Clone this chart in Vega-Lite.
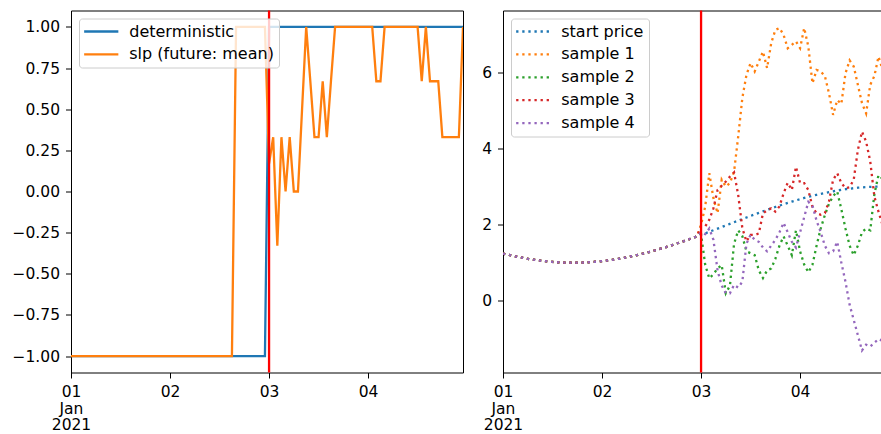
{
"$schema": "https://vega.github.io/schema/vega-lite/v6.json",
"background": "white",
"padding": {"left": 11, "top": 8.5, "right": 0, "bottom": 0},
"spacing": 17,
"data": {"values": [
{"t":"2021-01-01T00:00","det":-1,"slp":-1,"sp":1.243,"s1":1.243,"s2":1.243,"s3":1.243,"s4":1.243},
{"t":"2021-01-01T01:00","det":-1,"slp":-1,"sp":1.216,"s1":1.216,"s2":1.216,"s3":1.216,"s4":1.216},
{"t":"2021-01-01T02:00","det":-1,"slp":-1,"sp":1.191,"s1":1.191,"s2":1.191,"s3":1.191,"s4":1.191},
{"t":"2021-01-01T03:00","det":-1,"slp":-1,"sp":1.167,"s1":1.167,"s2":1.167,"s3":1.167,"s4":1.167},
{"t":"2021-01-01T04:00","det":-1,"slp":-1,"sp":1.145,"s1":1.145,"s2":1.145,"s3":1.145,"s4":1.145},
{"t":"2021-01-01T05:00","det":-1,"slp":-1,"sp":1.124,"s1":1.124,"s2":1.124,"s3":1.124,"s4":1.124},
{"t":"2021-01-01T06:00","det":-1,"slp":-1,"sp":1.104,"s1":1.104,"s2":1.104,"s3":1.104,"s4":1.104},
{"t":"2021-01-01T07:00","det":-1,"slp":-1,"sp":1.086,"s1":1.086,"s2":1.086,"s3":1.086,"s4":1.086},
{"t":"2021-01-01T08:00","det":-1,"slp":-1,"sp":1.070,"s1":1.070,"s2":1.070,"s3":1.070,"s4":1.070},
{"t":"2021-01-01T09:00","det":-1,"slp":-1,"sp":1.056,"s1":1.056,"s2":1.056,"s3":1.056,"s4":1.056},
{"t":"2021-01-01T10:00","det":-1,"slp":-1,"sp":1.043,"s1":1.043,"s2":1.043,"s3":1.043,"s4":1.043},
{"t":"2021-01-01T11:00","det":-1,"slp":-1,"sp":1.031,"s1":1.031,"s2":1.031,"s3":1.031,"s4":1.031},
{"t":"2021-01-01T12:00","det":-1,"slp":-1,"sp":1.022,"s1":1.022,"s2":1.022,"s3":1.022,"s4":1.022},
{"t":"2021-01-01T13:00","det":-1,"slp":-1,"sp":1.014,"s1":1.014,"s2":1.014,"s3":1.014,"s4":1.014},
{"t":"2021-01-01T14:00","det":-1,"slp":-1,"sp":1.008,"s1":1.008,"s2":1.008,"s3":1.008,"s4":1.008},
{"t":"2021-01-01T15:00","det":-1,"slp":-1,"sp":1.004,"s1":1.004,"s2":1.004,"s3":1.004,"s4":1.004},
{"t":"2021-01-01T16:00","det":-1,"slp":-1,"sp":1.001,"s1":1.001,"s2":1.001,"s3":1.001,"s4":1.001},
{"t":"2021-01-01T17:00","det":-1,"slp":-1,"sp":1.000,"s1":1.000,"s2":1.000,"s3":1.000,"s4":1.000},
{"t":"2021-01-01T18:00","det":-1,"slp":-1,"sp":1.001,"s1":1.001,"s2":1.001,"s3":1.001,"s4":1.001},
{"t":"2021-01-01T19:00","det":-1,"slp":-1,"sp":1.004,"s1":1.004,"s2":1.004,"s3":1.004,"s4":1.004},
{"t":"2021-01-01T20:00","det":-1,"slp":-1,"sp":1.008,"s1":1.008,"s2":1.008,"s3":1.008,"s4":1.008},
{"t":"2021-01-01T21:00","det":-1,"slp":-1,"sp":1.014,"s1":1.014,"s2":1.014,"s3":1.014,"s4":1.014},
{"t":"2021-01-01T22:00","det":-1,"slp":-1,"sp":1.022,"s1":1.022,"s2":1.022,"s3":1.022,"s4":1.022},
{"t":"2021-01-01T23:00","det":-1,"slp":-1,"sp":1.031,"s1":1.031,"s2":1.031,"s3":1.031,"s4":1.031},
{"t":"2021-01-02T00:00","det":-1,"slp":-1,"sp":1.043,"s1":1.043,"s2":1.043,"s3":1.043,"s4":1.043},
{"t":"2021-01-02T01:00","det":-1,"slp":-1,"sp":1.056,"s1":1.056,"s2":1.056,"s3":1.056,"s4":1.056},
{"t":"2021-01-02T02:00","det":-1,"slp":-1,"sp":1.070,"s1":1.070,"s2":1.070,"s3":1.070,"s4":1.070},
{"t":"2021-01-02T03:00","det":-1,"slp":-1,"sp":1.086,"s1":1.086,"s2":1.086,"s3":1.086,"s4":1.086},
{"t":"2021-01-02T04:00","det":-1,"slp":-1,"sp":1.104,"s1":1.104,"s2":1.104,"s3":1.104,"s4":1.104},
{"t":"2021-01-02T05:00","det":-1,"slp":-1,"sp":1.124,"s1":1.124,"s2":1.124,"s3":1.124,"s4":1.124},
{"t":"2021-01-02T06:00","det":-1,"slp":-1,"sp":1.145,"s1":1.145,"s2":1.145,"s3":1.145,"s4":1.145},
{"t":"2021-01-02T07:00","det":-1,"slp":-1,"sp":1.167,"s1":1.167,"s2":1.167,"s3":1.167,"s4":1.167},
{"t":"2021-01-02T08:00","det":-1,"slp":-1,"sp":1.191,"s1":1.191,"s2":1.191,"s3":1.191,"s4":1.191},
{"t":"2021-01-02T09:00","det":-1,"slp":-1,"sp":1.216,"s1":1.216,"s2":1.216,"s3":1.216,"s4":1.216},
{"t":"2021-01-02T10:00","det":-1,"slp":-1,"sp":1.243,"s1":1.243,"s2":1.243,"s3":1.243,"s4":1.243},
{"t":"2021-01-02T11:00","det":-1,"slp":-1,"sp":1.271,"s1":1.271,"s2":1.271,"s3":1.271,"s4":1.271},
{"t":"2021-01-02T12:00","det":-1,"slp":-1,"sp":1.300,"s1":1.300,"s2":1.300,"s3":1.300,"s4":1.300},
{"t":"2021-01-02T13:00","det":-1,"slp":-1,"sp":1.331,"s1":1.331,"s2":1.331,"s3":1.331,"s4":1.331},
{"t":"2021-01-02T14:00","det":-1,"slp":-1,"sp":1.363,"s1":1.363,"s2":1.363,"s3":1.363,"s4":1.363},
{"t":"2021-01-02T15:00","det":-1,"slp":-1,"sp":1.395,"s1":1.395,"s2":1.395,"s3":1.395,"s4":1.395},
{"t":"2021-01-02T16:00","det":-1,"slp":1,"sp":1.429,"s1":1.429,"s2":1.429,"s3":1.429,"s4":1.429},
{"t":"2021-01-02T17:00","det":-1,"slp":1,"sp":1.464,"s1":1.464,"s2":1.464,"s3":1.464,"s4":1.464},
{"t":"2021-01-02T18:00","det":-1,"slp":1,"sp":1.500,"s1":1.500,"s2":1.500,"s3":1.500,"s4":1.500},
{"t":"2021-01-02T19:00","det":-1,"slp":1,"sp":1.537,"s1":1.537,"s2":1.537,"s3":1.537,"s4":1.537},
{"t":"2021-01-02T20:00","det":-1,"slp":1,"sp":1.574,"s1":1.574,"s2":1.574,"s3":1.574,"s4":1.574},
{"t":"2021-01-02T21:00","det":-1,"slp":1,"sp":1.613,"s1":1.613,"s2":1.613,"s3":1.613,"s4":1.613},
{"t":"2021-01-02T22:00","det":-1,"slp":1,"sp":1.651,"s1":1.651,"s2":1.651,"s3":1.651,"s4":1.651},
{"t":"2021-01-02T23:00","det":-1,"slp":1,"sp":1.691,"s1":1.691,"s2":1.691,"s3":1.691,"s4":1.691},
{"t":"2021-01-03T00:00","det":1,"slp":0.17,"sp":1.731,"s1":2.0,"s2":1.75,"s3":1.95,"s4":1.8},
{"t":"2021-01-03T01:00","det":1,"slp":0.33,"sp":1.772,"s1":2.47,"s2":0.95,"s3":1.95,"s4":1.75},
{"t":"2021-01-03T02:00","det":1,"slp":-0.33,"sp":1.813,"s1":3.35,"s2":0.59,"s3":2.13,"s4":1.9},
{"t":"2021-01-03T03:00","det":1,"slp":0.33,"sp":1.854,"s1":2.69,"s2":0.7,"s3":2.43,"s4":1.6},
{"t":"2021-01-03T04:00","det":1,"slp":0,"sp":1.895,"s1":2.3,"s2":0.85,"s3":2.91,"s4":0.8},
{"t":"2021-01-03T05:00","det":1,"slp":0.33,"sp":1.937,"s1":3.18,"s2":0.94,"s3":3.02,"s4":0.4},
{"t":"2021-01-03T06:00","det":1,"slp":0,"sp":1.979,"s1":3.0,"s2":0.2,"s3":3.13,"s4":0.2},
{"t":"2021-01-03T07:00","det":1,"slp":0,"sp":2.021,"s1":3.09,"s2":0.4,"s3":3.26,"s4":0.2},
{"t":"2021-01-03T08:00","det":1,"slp":0.5,"sp":2.063,"s1":3.39,"s2":1.5,"s3":3.37,"s4":0.42},
{"t":"2021-01-03T09:00","det":1,"slp":1,"sp":2.105,"s1":4.31,"s2":1.85,"s3":2.78,"s4":0.35},
{"t":"2021-01-03T10:00","det":1,"slp":0.67,"sp":2.146,"s1":5.32,"s2":1.7,"s3":1.91,"s4":0.5},
{"t":"2021-01-03T11:00","det":1,"slp":0.33,"sp":2.187,"s1":5.93,"s2":1.3,"s3":1.56,"s4":1.5},
{"t":"2021-01-03T12:00","det":1,"slp":0.33,"sp":2.228,"s1":6.24,"s2":1.25,"s3":1.73,"s4":1.73},
{"t":"2021-01-03T13:00","det":1,"slp":0.67,"sp":2.269,"s1":6.02,"s2":1.2,"s3":1.73,"s4":1.6},
{"t":"2021-01-03T14:00","det":1,"slp":0.33,"sp":2.309,"s1":6.28,"s2":0.8,"s3":1.77,"s4":1.55},
{"t":"2021-01-03T15:00","det":1,"slp":0.67,"sp":2.349,"s1":6.54,"s2":0.6,"s3":2.3,"s4":1.4},
{"t":"2021-01-03T16:00","det":1,"slp":1,"sp":2.388,"s1":6.11,"s2":0.8,"s3":2.37,"s4":1.3},
{"t":"2021-01-03T17:00","det":1,"slp":1,"sp":2.426,"s1":6.76,"s2":0.85,"s3":2.43,"s4":1.45},
{"t":"2021-01-03T18:00","det":1,"slp":1,"sp":2.463,"s1":7.11,"s2":1.1,"s3":2.34,"s4":1.6},
{"t":"2021-01-03T19:00","det":1,"slp":1,"sp":2.500,"s1":7.16,"s2":1.45,"s3":2.48,"s4":1.8},
{"t":"2021-01-03T20:00","det":1,"slp":1,"sp":2.536,"s1":6.98,"s2":1.69,"s3":2.82,"s4":2.05},
{"t":"2021-01-03T21:00","det":1,"slp":1,"sp":2.571,"s1":6.63,"s2":1.45,"s3":3.1,"s4":1.8},
{"t":"2021-01-03T22:00","det":1,"slp":1,"sp":2.605,"s1":6.72,"s2":1.2,"s3":2.91,"s4":1.55},
{"t":"2021-01-03T23:00","det":1,"slp":1,"sp":2.637,"s1":6.81,"s2":1.85,"s3":3.52,"s4":1.4},
{"t":"2021-01-04T00:00","det":1,"slp":1,"sp":2.669,"s1":6.63,"s2":1.3,"s3":3.09,"s4":1.8},
{"t":"2021-01-04T01:00","det":1,"slp":1,"sp":2.700,"s1":7.16,"s2":0.95,"s3":3.09,"s4":2.2},
{"t":"2021-01-04T02:00","det":1,"slp":0.67,"sp":2.729,"s1":6.67,"s2":0.75,"s3":2.91,"s4":2.6},
{"t":"2021-01-04T03:00","det":1,"slp":0.67,"sp":2.757,"s1":5.71,"s2":0.95,"s3":2.46,"s4":2.5},
{"t":"2021-01-04T04:00","det":1,"slp":1,"sp":2.784,"s1":6.06,"s2":1.45,"s3":2.3,"s4":2.1},
{"t":"2021-01-04T05:00","det":1,"slp":1,"sp":2.809,"s1":6.02,"s2":1.9,"s3":2.26,"s4":1.8},
{"t":"2021-01-04T06:00","det":1,"slp":1,"sp":2.833,"s1":5.9,"s2":2.25,"s3":2.3,"s4":1.45},
{"t":"2021-01-04T07:00","det":1,"slp":1,"sp":2.855,"s1":5.45,"s2":2.55,"s3":2.61,"s4":1.25},
{"t":"2021-01-04T08:00","det":1,"slp":1,"sp":2.876,"s1":4.88,"s2":2.75,"s3":3.18,"s4":1.3},
{"t":"2021-01-04T09:00","det":1,"slp":1,"sp":2.896,"s1":5.27,"s2":2.87,"s3":3.35,"s4":1.55},
{"t":"2021-01-04T10:00","det":1,"slp":1,"sp":2.914,"s1":5.17,"s2":2.4,"s3":3.09,"s4":1.0},
{"t":"2021-01-04T11:00","det":1,"slp":1,"sp":2.930,"s1":5.97,"s2":1.9,"s3":2.96,"s4":0.5},
{"t":"2021-01-04T12:00","det":1,"slp":1,"sp":2.944,"s1":6.31,"s2":1.45,"s3":2.98,"s4":-0.1},
{"t":"2021-01-04T13:00","det":1,"slp":0.67,"sp":2.957,"s1":6.15,"s2":1.2,"s3":3.18,"s4":-0.5},
{"t":"2021-01-04T14:00","det":1,"slp":1,"sp":2.969,"s1":5.67,"s2":1.45,"s3":3.96,"s4":-0.9},
{"t":"2021-01-04T15:00","det":1,"slp":0.67,"sp":2.978,"s1":5.19,"s2":1.8,"s3":4.44,"s4":-1.3},
{"t":"2021-01-04T16:00","det":1,"slp":0.67,"sp":2.986,"s1":4.92,"s2":1.9,"s3":4.18,"s4":-1.15},
{"t":"2021-01-04T17:00","det":1,"slp":0.67,"sp":2.992,"s1":5.67,"s2":1.85,"s3":3.66,"s4":-1.2},
{"t":"2021-01-04T18:00","det":1,"slp":0.33,"sp":2.997,"s1":5.9,"s2":2.8,"s3":2.74,"s4":-1.1},
{"t":"2021-01-04T19:00","det":1,"slp":0.33,"sp":2.999,"s1":6.41,"s2":3.3,"s3":2.34,"s4":-1.0},
{"t":"2021-01-04T20:00","det":1,"slp":0.33,"sp":3.000,"s1":6.06,"s2":3.2,"s3":1.99,"s4":-1.05},
{"t":"2021-01-04T21:00","det":1,"slp":0.33,"sp":2.999,"s1":5.9,"s2":3.1,"s3":2.1,"s4":-1.1},
{"t":"2021-01-04T22:00","det":1,"slp":0.33,"sp":2.997,"s1":6.0,"s2":3.0,"s3":2.2,"s4":-1.2},
{"t":"2021-01-04T23:00","det":1,"slp":1,"sp":2.992,"s1":6.2,"s2":3.1,"s3":2.3,"s4":-1.3}
]},
"hconcat": [
{
"width": 392, "height": 362,
"layer": [
{
"transform": [{"fold": ["det", "slp"], "as": ["series", "value"]}],
"mark": {"type": "line", "strokeWidth": 2.3, "clip": true},
"encoding": {
"x": {"field": "t", "type": "temporal",
"scale": {"domain": [{"year": 2021, "month": 1, "date": 1, "hours": 0}, {"year": 2021, "month": 1, "date": 4, "hours": 23}], "nice": false},
"axis": {"tickCount": {"interval": "day", "step": 1}, "labelExpr": "date(datum.value) == 1 ? ['01', 'Jan', '2021'] : timeFormat(datum.value, '%d')"}},
"y": {"field": "value", "type": "quantitative",
"scale": {"domain": [-1.1, 1.1], "nice": false, "zero": false},
"axis": {"values": [-1, -0.75, -0.5, -0.25, 0, 0.25, 0.5, 0.75, 1], "format": ".2f"}},
"color": {"field": "series", "type": "nominal",
"scale": {"domain": ["det", "slp"], "range": ["#1f77b4", "#ff7f0e"]},
"legend": {"labelExpr": "datum.value == 'det' ? 'deterministic' : 'slp (future: mean)'"}}
}
},
{
"data": {"values": [{"t": "2021-01-03T00:00"}]},
"mark": {"type": "rule", "color": "#ff0000", "strokeWidth": 2.3},
"encoding": {"x": {"field": "t", "type": "temporal"}}
}
]
},
{
"width": 379, "height": 362,
"layer": [
{
"transform": [{"fold": ["sp", "s1", "s2", "s3", "s4"], "as": ["series", "value"]}],
"mark": {"type": "line", "strokeWidth": 2.3, "strokeDash": [2.3, 3.8], "clip": true},
"encoding": {
"x": {"field": "t", "type": "temporal",
"scale": {"domain": [{"year": 2021, "month": 1, "date": 1, "hours": 0}, {"year": 2021, "month": 1, "date": 4, "hours": 19, "minutes": 51}], "nice": false},
"axis": {"tickCount": {"interval": "day", "step": 1}, "labelExpr": "date(datum.value) == 1 ? ['01', 'Jan', '2021'] : timeFormat(datum.value, '%d')"}},
"y": {"field": "value", "type": "quantitative",
"scale": {"domain": [-1.88, 7.62], "nice": false, "zero": false},
"axis": {"values": [0, 2, 4, 6], "format": "d"}},
"color": {"field": "series", "type": "nominal",
"scale": {"domain": ["sp", "s1", "s2", "s3", "s4"], "range": ["#1f77b4", "#ff7f0e", "#2ca02c", "#d62728", "#9467bd"]},
"legend": {"symbolDash": [2.3, 3.8], "labelExpr": "datum.value == 'sp' ? 'start price' : datum.value == 's1' ? 'sample 1' : datum.value == 's2' ? 'sample 2' : datum.value == 's3' ? 'sample 3' : 'sample 4'"}}
}
},
{
"data": {"values": [{"t": "2021-01-03T00:00"}]},
"mark": {"type": "rule", "color": "#ff0000", "strokeWidth": 2.3},
"encoding": {"x": {"field": "t", "type": "temporal"}}
}
]
}
],
"resolve": {"scale": {"color": "independent"}},
"config": {
"font": "DejaVu Sans",
"view": {"stroke": "black", "strokeWidth": 1},
"axis": {"domain": false, "grid": false, "ticks": true, "tickColor": "black", "tickSize": 5.5, "tickWidth": 1, "labelColor": "black", "labelFont": "DejaVu Sans", "labelFontSize": 15.5, "title": null},
"axisX": {"labelPadding": 6.5, "labelFlush": false, "labelOverlap": false, "labelLineHeight": 16.6, "labelAngle": 0},
"axisY": {"labelPadding": 6},
"legend": {"orient": "top-left", "offset": 8, "padding": 5, "title": null, "fillColor": "rgba(255,255,255,0.8)", "strokeColor": "#cccccc", "cornerRadius": 3, "labelFont": "DejaVu Sans", "labelFontSize": 16, "labelColor": "black", "labelLimit": 300, "symbolType": "M-2.85,0H2.85", "symbolSize": 144, "symbolStrokeWidth": 2.3, "symbolOffset": 9.25, "labelOffset": 20, "rowPadding": 6.9}
}
}
